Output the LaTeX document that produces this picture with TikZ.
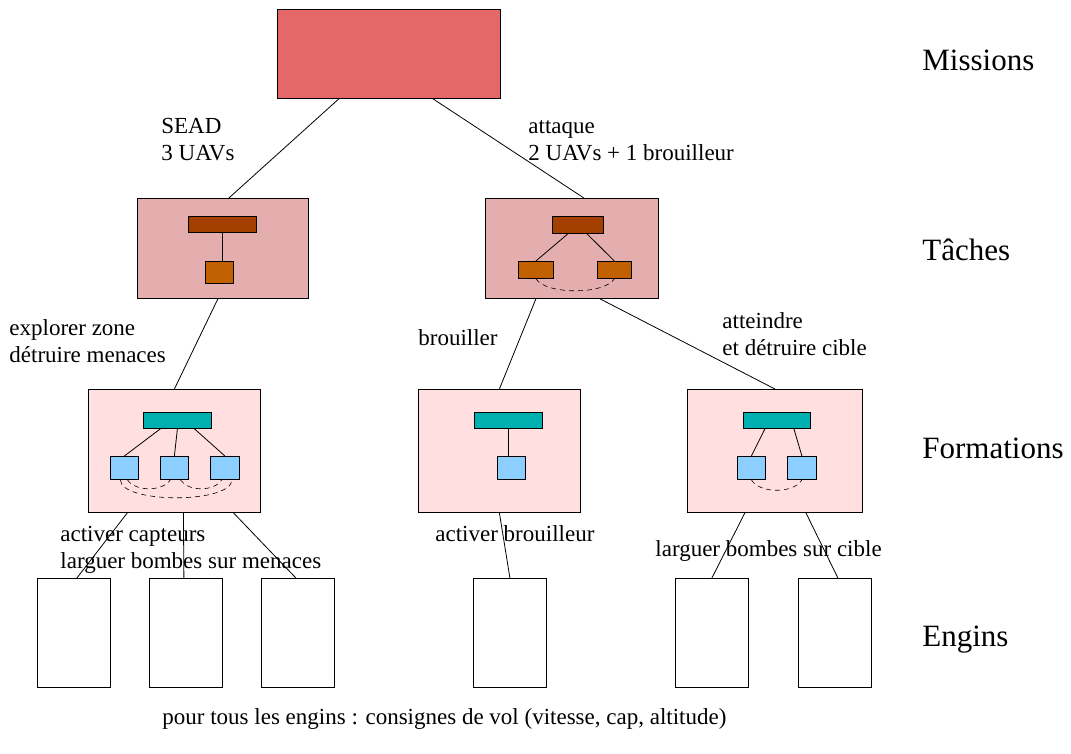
\documentclass[tikz,border=0pt]{standalone}
\usepackage{fontspec}
\setmainfont{Liberation Serif}
\usetikzlibrary{calc}

\definecolor{missionred}{RGB}{229,104,104}
\definecolor{tachepink}{RGB}{228,174,174}
\definecolor{formpink}{RGB}{255,223,223}
\definecolor{barbrown}{RGB}{163,63,0}
\definecolor{suborange}{RGB}{192,96,0}
\definecolor{barteal}{RGB}{0,176,176}
\definecolor{subblue}{RGB}{140,207,255}

\begin{document}
\begin{tikzpicture}[x=1pt, y=-1pt, line width=0.8pt,
    box/.style={draw, inner sep=0pt, anchor=north west},
    lbl/.style={anchor=base west, inner sep=0pt, align=left, font=\fontsize{23}{27}\selectfont},
    lvl/.style={anchor=base west, inner sep=0pt, font=\fontsize{31}{37}\selectfont},
    arc/.style={line width=0.6pt, dash pattern=on 5pt off 4pt}]

\useasboundingbox (0,0) rectangle (1071,754);

%box from top left corner
%  \boite{name}{x}{y}{width}{height}{fill}
\newcommand{\boite}[6]{
        \node[box, fill=#6, minimum width=#4pt, minimum height=#5pt] (#1) at (#2,#3) {};
}

%%missions
\boite{mission}{277}{9}{223}{89}{missionred}

%%taches
\boite{tacheA}{137}{198}{171}{100}{tachepink}
\boite{tacheB}{485}{198}{173}{100}{tachepink}
\boite{barA}{188}{216}{68}{16}{barbrown}
\boite{subA}{205}{261}{28}{22}{suborange}
\boite{barB}{552}{216}{51}{17}{barbrown}
\boite{subBa}{518}{261}{35}{17}{suborange}
\boite{subBb}{597}{261}{34}{17}{suborange}

%%formations
\boite{formA}{88}{389}{172}{123}{formpink}
\boite{formB}{418}{389}{162}{123}{formpink}
\boite{formC}{687}{389}{175}{123}{formpink}
\boite{barFA}{143}{412}{68}{16}{barteal}
\boite{fa1}{110}{456}{28}{23}{subblue}
\boite{fa2}{160}{456}{28}{23}{subblue}
\boite{fa3}{210}{456}{29}{23}{subblue}
\boite{barFB}{474}{412}{68}{16}{barteal}
\boite{fb1}{497}{456}{28}{23}{subblue}
\boite{barFC}{743}{412}{67}{16}{barteal}
\boite{fc1}{737}{456}{28}{23}{subblue}
\boite{fc2}{787}{456}{29}{23}{subblue}

%%engins
\boite{enginA1}{37}{578}{73}{109}{white}
\boite{enginA2}{149}{578}{73}{109}{white}
\boite{enginA3}{261}{578}{73}{109}{white}
\boite{enginB1}{473}{578}{73}{109}{white}
\boite{enginC1}{675}{578}{73}{109}{white}
\boite{enginC2}{798}{578}{73}{109}{white}

%%links between levels
\draw ($(mission.south)+(-50,0)$) -- ($(tacheA.north)+(6,0)$);
\draw ($(mission.south)+(44,0)$) -- ($(tacheB.north)+(12,0)$);
\draw ($(tacheA.south)+(-5,0)$) -- (formA.north);
\draw ($(tacheB.south)+(-36,0)$) -- (formB.north);
\draw ($(tacheB.south)+(28,0)$) -- (formC.north);
\draw ($(formA.south)+(-47,0)$) -- ($(enginA1.north)+(3,0)$);
\draw ($(formA.south)+(9,0)$) -- ($(enginA2.north)+(-2,0)$);
\draw ($(formA.south)+(59,0)$) -- ($(enginA3.north)+(-2,0)$);
\draw (formB.south) -- (enginB1.north);
\draw ($(formC.south)+(-30,0)$) -- (enginC1.north);
\draw ($(formC.south)+(31,0)$) -- ($(enginC2.north)+(3,0)$);

%%links inside boxes
\draw (barA.south) -- (barA.south |- subA.north);
\draw ($(barB.south)+(-10,0)$) -- (subBa.north);
\draw ($(barB.south)+(9,0)$) -- (subBb.north);
\draw ($(barFA.south)+(-17,0)$) -- (fa1.north);
\draw (barFA.south) -- (fa2.north);
\draw ($(barFA.south)+(17,0)$) -- (fa3.north);
\draw (barFB.south) -- (barFB.south |- fb1.north);
\draw ($(barFC.south)+(-12,0)$) -- (fc1.north);
\draw ($(barFC.south)+(17,0)$) -- (fc2.north);

%%dashed arcs
\draw[arc] (subBa.south) .. controls +(10,16) and +(-10,16) .. (subBb.south);
\draw[arc] ($(fa1.south)+(3,0)$) .. controls +(8,12) and +(-8,12) .. ($(fa2.south)+(-4,0)$);
\draw[arc] ($(fa2.south)+(6,0)$) .. controls +(8,12) and +(-8,12) .. ($(fa3.south)+(-3,0)$);
\draw[arc] ($(fa1.south)+(-4,0)$) .. controls +(0,24) and +(0,24) .. ($(fa3.south)+(7,0)$);
\draw[arc] (fc1.south) .. controls +(8,14) and +(-8,14) .. (fc2.south);

%%labels (base = last line)
\node[lbl] (sead) at (161,161) {SEAD\\3 UAVs};
\node[lbl] (attaque) at (528,161) {attaque\\2 UAVs + 1 brouilleur};
\node[lbl] (explorer) at (9,362) {explorer zone\\détruire menaces};
\node[lbl] (brouiller) at (418,345) {brouiller};
\node[lbl] (atteindre) at (722,355) {atteindre\\et détruire cible};
\node[lbl] (capteurs) at (60,568) {activer capteurs\\larguer bombes sur menaces};
\node[lbl] (actbrouill) at (435,541) {activer brouilleur};
\node[lbl] (cible) at (655,556) {larguer bombes sur cible};
\node[lbl] (consignes) at (162,724) {pour tous les engins : consignes de vol (vitesse, cap, altitude)};

%%levels
\node[lvl] (lvlmissions) at (922,71) {Missions};
\node[lvl] (lvltaches) at (922,261) {Tâches};
\node[lvl] (lvlformations) at (922,458) {Formations};
\node[lvl] (lvlengins) at (922,646) {Engins};

\end{tikzpicture}
\end{document}
